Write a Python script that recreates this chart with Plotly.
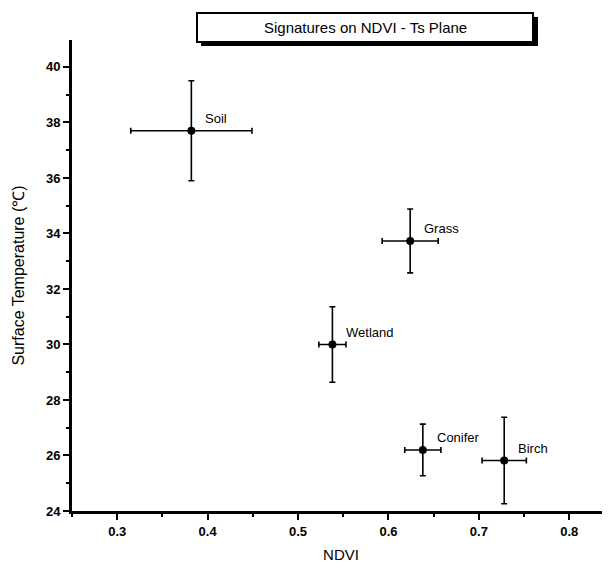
import plotly.graph_objects as go

classes = ["Soil", "Grass", "Wetland", "Conifer", "Birch"]
ndvi = [0.382, 0.624, 0.538, 0.638, 0.728]
ndvi_err = [0.067, 0.031, 0.015, 0.020, 0.0245]
temp = [37.7, 33.73, 30.0, 26.2, 25.82]
temp_err = [1.8, 1.15, 1.36, 0.93, 1.56]

x_ticks = [0.3, 0.4, 0.5, 0.6, 0.7, 0.8]
y_ticks = [24, 26, 28, 30, 32, 34, 36, 38, 40]

FONT = "Arial, Liberation Sans, sans-serif"

fig = go.Figure()
fig.add_trace(go.Scatter(
    x=ndvi, y=temp, mode="markers",
    marker=dict(color="black", size=8, symbol="circle"),
    error_x=dict(type="data", array=ndvi_err, color="black", thickness=1.6, width=3),
    error_y=dict(type="data", array=temp_err, color="black", thickness=1.6, width=3),
    showlegend=False, hoverinfo="skip",
))

for c, x, y in zip(classes, ndvi, temp):
    fig.add_annotation(x=x, y=y, text=c, showarrow=False, xanchor="left", yanchor="middle",
                       xshift=12, yshift=12, font=dict(family=FONT, size=13, color="black"))

OFF = 8  # page body margin
W, H = 610 - OFF, 569 - OFF
L, T = 72 - OFF, 40 - OFF
R = 0
B = H - (511 - OFF)
pw, ph = W - L - R, H - T - B

def px(xp):
    return (xp - OFF - L) / pw

def py(yp):
    return (H - B - (yp - OFF)) / ph

# title box with drop shadow
fig.add_shape(type="rect", xref="paper", yref="paper",
              x0=px(201), x1=px(538), y0=py(46), y1=py(17),
              fillcolor="black", line=dict(width=0), layer="above")
fig.add_shape(type="rect", xref="paper", yref="paper",
              x0=px(197), x1=px(533), y0=py(42), y1=py(13),
              fillcolor="white", line=dict(color="black", width=2), layer="above")
fig.add_annotation(xref="paper", yref="paper", x=px(365), y=py(27),
                   text="Signatures on NDVI - Ts Plane", showarrow=False,
                   xanchor="center", yanchor="middle",
                   font=dict(family=FONT, size=15, color="black"))

fig.update_layout(
    width=W, height=H,
    margin=dict(l=L, r=R, t=T, b=B),
    paper_bgcolor="white", plot_bgcolor="white",
    font=dict(family=FONT, color="black"),
    xaxis=dict(range=[0.25, 0.845], tickvals=x_ticks, ticktext=[f"{v:.1f}" for v in x_ticks],
               ticks="outside", ticklen=6, tickwidth=2, tickcolor="black",
               minor=dict(dtick=0.05, ticks="outside", ticklen=3, tickwidth=1.5, tickcolor="black"),
               showline=True, linecolor="black", linewidth=3, showgrid=False, zeroline=False,
               tickfont=dict(family=FONT, size=13, color="black", weight="bold"),
               title=dict(text="NDVI", font=dict(family=FONT, size=15, color="black"), standoff=12)),
    yaxis=dict(range=[24, 40.97], tickvals=y_ticks,
               ticks="outside", ticklen=6, tickwidth=2, tickcolor="black",
               minor=dict(dtick=1, ticks="outside", ticklen=3, tickwidth=1.5, tickcolor="black"),
               showline=True, linecolor="black", linewidth=3, showgrid=False, zeroline=False,
               tickfont=dict(family=FONT, size=13, color="black", weight="bold"),
               title=dict(text="Surface Temperature (℃)", font=dict(family=FONT, size=16, color="black"), standoff=18)),
)

fig.write_html("out.html")
